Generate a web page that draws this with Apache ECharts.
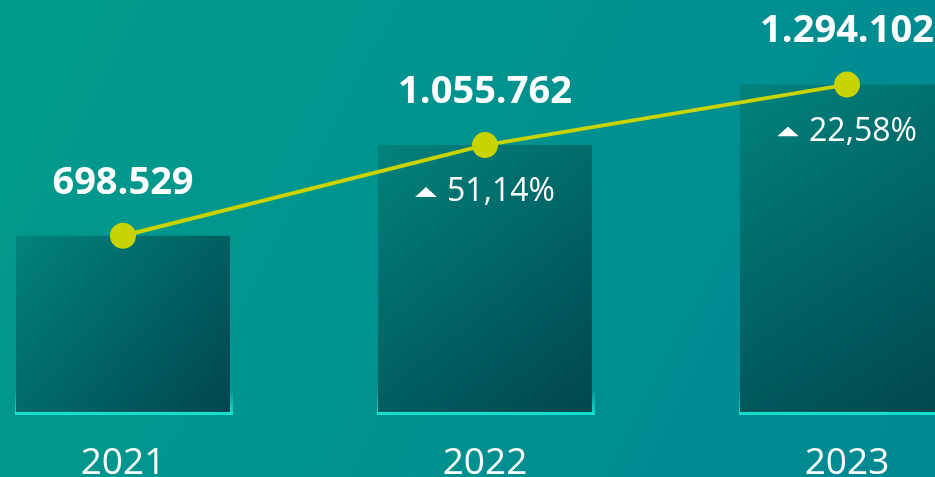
<!DOCTYPE html>
<html>
<head>
<meta charset="utf-8">
<script src="https://cdn.jsdelivr.net/npm/echarts@6/dist/echarts.min.js"></script>
<style>
html,body{margin:0;padding:0;}
#c{width:935px;height:477px;}
</style>
</head>
<body>
<div id="c"></div>
<script>
var years = ['2021', '2022', '2023'];
var values = [698529, 1055762, 1294102];
var valueLabels = ['698.529', '1.055.762', '1.294.102'];
var growthLabels = ['', '51,14%', '22,58%'];

var triSvg = 'data:image/svg+xml;utf8,' + encodeURIComponent('<svg xmlns="http://www.w3.org/2000/svg" width="22" height="10" viewBox="0 0 22 10"><polygon points="11,0 22,10 0,10" fill="#ffffff"/></svg>');

var chart = echarts.init(document.getElementById('c'), null, {renderer: 'canvas'});
chart.setOption({
  animation: false,
  backgroundColor: {
    type: 'linear', x: 0, y: 0, x2: 1, y2: 1,
    colorStops: [
      {offset: 0, color: '#009b8b'},
      {offset: 1, color: '#008893'}
    ]
  },
  grid: {left: 123, right: 88, top: 7, bottom: 64, containLabel: false, outerBoundsMode: 'none'},
  xAxis: {
    type: 'category',
    data: years,
    boundaryGap: false,
    axisLine: {show: false},
    axisTick: {show: false},
    splitLine: {show: false},
    axisLabel: {
      color: '#ffffff',
      fontFamily: 'Open Sans',
      fontSize: 37,
      margin: 32
    }
  },
  yAxis: {
    type: 'value',
    min: 0,
    max: 1600000,
    show: false,
    splitLine: {show: false}
  },
  series: [
    {
      type: 'pictorialBar',
      data: values,
      barWidth: 218,
      barGap: '-100%',
      symbol: 'rect',
      symbolPosition: 'start',
      symbolSize: [218, 26],
      symbolOffset: [0, 2],
      clip: false,
      z: 1,
      itemStyle: {
        color: {
          type: 'linear', x: 0, y: 0, x2: 0, y2: 1,
          colorStops: [
            {offset: 0, color: 'rgba(25,225,205,0)'},
            {offset: 1, color: 'rgba(25,225,205,1)'}
          ]
        }
      },
      silent: true
    },
    {
      type: 'bar',
      data: values,
      barWidth: 214,
      barGap: '-100%',
      clip: false,
      z: 2,
      itemStyle: {
        color: {
          type: 'linear', x: 0, y: 0, x2: 1, y2: 1,
          colorStops: [
            {offset: 0, color: '#02827c'},
            {offset: 1, color: '#00464e'}
          ]
        }
      },
      label: {
        show: true,
        position: 'insideTop',
        distance: 31,
        formatter: function (p) {
          var g = growthLabels[p.dataIndex];
          return g ? '{tri|}{sp|}{t|' + g + '}' : '';
        },
        rich: {
          tri: {width: 22, height: 10, backgroundColor: {image: triSvg}},
          sp: {width: 10},
          t: {color: '#ffffff', fontFamily: 'Open Sans', fontSize: 32}
        }
      }
    },
    {
      type: 'pictorialBar',
      data: values,
      barWidth: 216,
      barGap: '-100%',
      symbol: 'rect',
      symbolPosition: 'start',
      symbolSize: [216, 3],
      symbolOffset: [0, 2],
      clip: false,
      z: 3,
      itemStyle: {color: '#14e0cb'},
      silent: true
    },
    {
      type: 'line',
      data: values,
      z: 5,
      clip: false,
      symbol: 'circle',
      symbolSize: 26,
      lineStyle: {color: '#c8d300', width: 4},
      itemStyle: {color: '#c8d300'},
      label: {
        show: true,
        position: 'top',
        distance: 21,
        formatter: function (p) { return valueLabels[p.dataIndex]; },
        color: '#ffffff',
        fontFamily: 'Open Sans',
        fontWeight: 'bold',
        fontSize: 38
      }
    }
  ]
});
</script>
</body>
</html>
